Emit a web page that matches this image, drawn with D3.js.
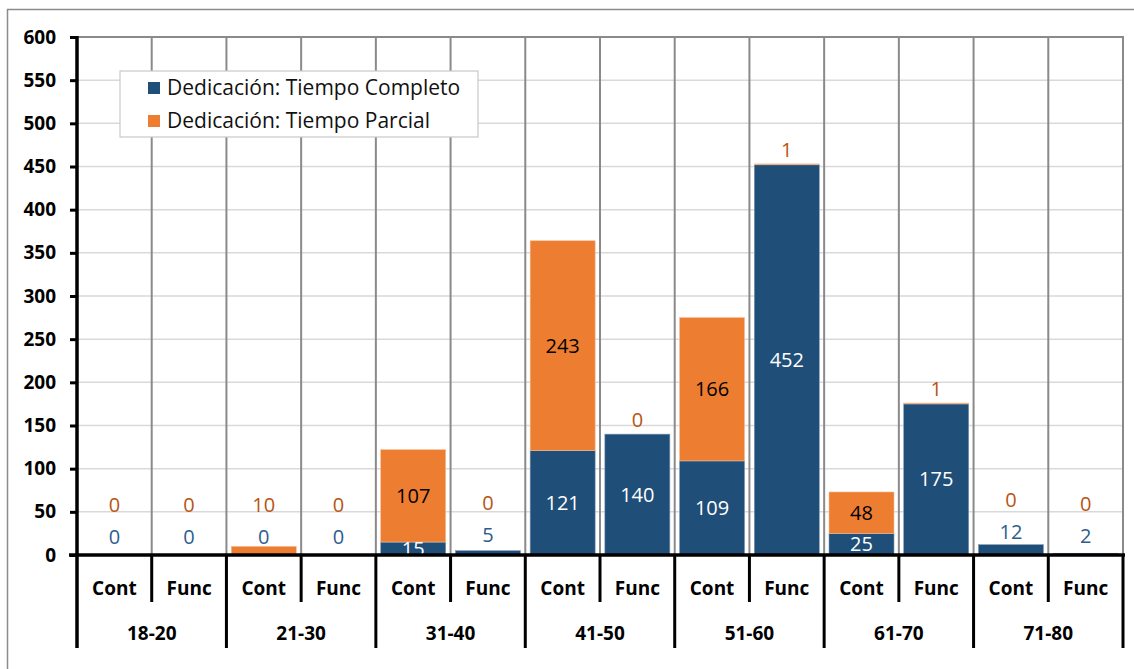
<!DOCTYPE html>
<html>
<head>
<meta charset="utf-8">
<script src="https://cdn.jsdelivr.net/npm/d3@7"></script>
<style>
  body { margin: 0; background: #fff; }
  text { font-family: "Open Sans", sans-serif; }
</style>
</head>
<body>
<div id="chart"></div>
<script>
const groups = ["18-20", "21-30", "31-40", "41-50", "51-60", "61-70", "71-80"]
const types = ["Cont", "Func"]
// Dedicación: Tiempo Completo, one value per group/type
const completo = [0, 0, 0, 0, 15, 5, 121, 140, 109, 452, 25, 175, 12, 2]
// Dedicación: Tiempo Parcial
const parcial = [0, 0, 10, 0, 107, 0, 243, 0, 166, 1, 48, 1, 0, 0]
const yTicks = d3.range(0, 601, 50)
const seriesNames = ["Dedicación: Tiempo Completo", "Dedicación: Tiempo Parcial"]

const W = 1134, H = 669
const plot = {left: 77, right: 1123, top: 37, bottom: 555}

const rows = []
groups.forEach((g, i) => types.forEach((t, j) => {
    const k = i * 2 + j
    rows.push({group: g, type: t, completo: completo[k], parcial: parcial[k]})
}))

const svg = d3.select("#chart").append("svg")
    .attr("width", W)
    .attr("height", H)

// chart frame
svg.append("path")
    .attr("d", `M7.5,${H + 2}V9.5H${W + 2}`)
    .attr("fill", "none")
    .attr("stroke", "#8c8c8c")
    .attr("stroke-width", 1.5)

const x0 = d3.scaleBand()
    .domain(groups)
    .range([plot.left, plot.right])

const x1 = d3.scaleBand()
    .domain(types)
    .range([0, x0.bandwidth()])
    .paddingInner(0.13)
    .paddingOuter(0.065)

const y = d3.scaleLinear()
    .domain([0, 600])
    .range([plot.bottom, plot.top])

const slotX = d => x0(d.group) + x1(d.type)
const step = x1.step()

// horizontal grid
svg.append("g")
    .selectAll("line")
    .data(yTicks.filter(d => d > 0 && d < 600))
    .join("line")
    .attr("x1", plot.left).attr("x2", plot.right)
    .attr("y1", d => y(d)).attr("y2", d => y(d))
    .attr("stroke", "#d9d9d9")
    .attr("stroke-width", 1.5)

// vertical grid at slot boundaries
const bounds = rows.map(d => x0(d.group) + x1(d.type) - x1.paddingInner() * step / 2).slice(1)
svg.append("g")
    .selectAll("line")
    .data(bounds)
    .join("line")
    .attr("x1", d => d).attr("x2", d => d)
    .attr("y1", plot.top).attr("y2", plot.bottom)
    .attr("stroke", "#8a8a8a")
    .attr("stroke-width", 2)

// plot border top/right
svg.append("path")
    .attr("d", `M${plot.left},${plot.top}H${plot.right}V${plot.bottom}`)
    .attr("fill", "none")
    .attr("stroke", "#8a8a8a")
    .attr("stroke-width", 2)

// bars
const blue = "#1f4e79", orange = "#ed7d31"
const bars = svg.append("g")
bars.selectAll(".c")
    .data(rows.filter(d => d.completo > 0))
    .join("rect")
    .attr("x", slotX)
    .attr("width", x1.bandwidth())
    .attr("y", d => y(d.completo))
    .attr("height", d => y(0) - y(d.completo))
    .attr("fill", blue)
    .attr("stroke", "#7f9bb5")
    .attr("stroke-width", 0.6)
bars.selectAll(".p")
    .data(rows.filter(d => d.parcial > 0))
    .join("rect")
    .attr("x", slotX)
    .attr("width", x1.bandwidth())
    .attr("y", d => y(d.completo + d.parcial))
    .attr("height", d => y(d.completo) - y(d.completo + d.parcial))
    .attr("fill", orange)
    .attr("stroke", "#f6be98")
    .attr("stroke-width", 0.6)

// data labels
const inside = v => v >= 15
const blueLabelY = d => inside(d.completo) ? y(d.completo / 2) : y(d.completo / 2) - 18
const labels = svg.append("g")
    .attr("text-anchor", "middle")
    .style("font-size", "20px")
labels.selectAll(".lc")
    .data(rows)
    .join("text")
    .attr("x", d => slotX(d) + x1.bandwidth() / 2)
    .attr("y", blueLabelY)
    .attr("dy", "0.35em")
    .attr("fill", d => inside(d.completo) ? "#fff" : "#2e5d8c")
    .text(d => d.completo)
labels.selectAll(".lp")
    .data(rows)
    .join("text")
    .attr("x", d => slotX(d) + x1.bandwidth() / 2)
    .attr("y", d => {
        if (inside(d.parcial)) return y(d.completo + d.parcial / 2)
        if (!inside(d.completo)) return blueLabelY(d) - 32
        return y(d.completo + d.parcial) - 14
    })
    .attr("dy", "0.35em")
    .attr("fill", d => inside(d.parcial) ? "#000" : "#b85412")
    .text(d => d.parcial)

// y axis
const yAx = d3.axisLeft(y).tickValues(yTicks).tickSize(7).tickPadding(14)
svg.append("g")
    .attr("transform", `translate(${plot.left},0)`)
    .call(yAx)
    .call(g => g.select(".domain").remove())
    .call(g => g.selectAll(".tick line").attr("stroke", "#000").attr("stroke-width", 3))
    .call(g => g.selectAll(".tick text")
        .attr("fill", "#000")
        .style("font-family", "'Open Sans', sans-serif")
        .style("font-size", "19px")
        .style("font-weight", "bold"))
svg.append("line")
    .attr("x1", plot.left).attr("x2", plot.left)
    .attr("y1", plot.top - 1).attr("y2", 648)
    .attr("stroke", "#000").attr("stroke-width", 3.5)

// x axis: two levels
svg.append("line")
    .attr("x1", plot.left - 8).attr("x2", plot.right + 2)
    .attr("y1", plot.bottom).attr("y2", plot.bottom)
    .attr("stroke", "#000").attr("stroke-width", 3.5)
const xa = svg.append("g")
xa.selectAll(".sub")
    .data(bounds)
    .join("line")
    .attr("x1", d => d).attr("x2", d => d)
    .attr("y1", plot.bottom)
    .attr("y2", (d, i) => i % 2 === 1 ? 648 : 602)
    .attr("stroke", "#000").attr("stroke-width", 3)
xa.append("line")
    .attr("x1", plot.right).attr("x2", plot.right)
    .attr("y1", plot.bottom).attr("y2", 648)
    .attr("stroke", "#000").attr("stroke-width", 3)
xa.selectAll(".tl")
    .data(rows)
    .join("text")
    .attr("x", d => slotX(d) + x1.bandwidth() / 2)
    .attr("y", 588)
    .attr("dy", "0.35em")
    .attr("text-anchor", "middle")
    .style("font-size", "19px")
    .style("font-weight", "bold")
    .text(d => d.type)
xa.selectAll(".gl")
    .data(groups)
    .join("text")
    .attr("x", d => x0(d) + x0.bandwidth() / 2)
    .attr("y", 633)
    .attr("dy", "0.35em")
    .attr("text-anchor", "middle")
    .style("font-size", "19px")
    .style("font-weight", "bold")
    .text(d => d)

// legend
const legend = svg.append("g").attr("transform", "translate(120,71)")
legend.append("rect")
    .attr("width", 358).attr("height", 66)
    .attr("fill", "#fff")
    .attr("stroke", "#c8c8c8")
    .attr("stroke-width", 1.2)
const li = legend.selectAll(".li")
    .data(seriesNames)
    .join("g")
    .attr("transform", (d, i) => `translate(28,${17 + i * 33})`)
li.append("rect")
    .attr("y", -6).attr("width", 12).attr("height", 12)
    .attr("fill", (d, i) => [blue, orange][i])
li.append("text")
    .attr("x", 19)
    .attr("dy", "0.35em")
    .style("font-size", "21px")
    .attr("fill", "#111")
    .text(d => d)
</script>
</body>
</html>
